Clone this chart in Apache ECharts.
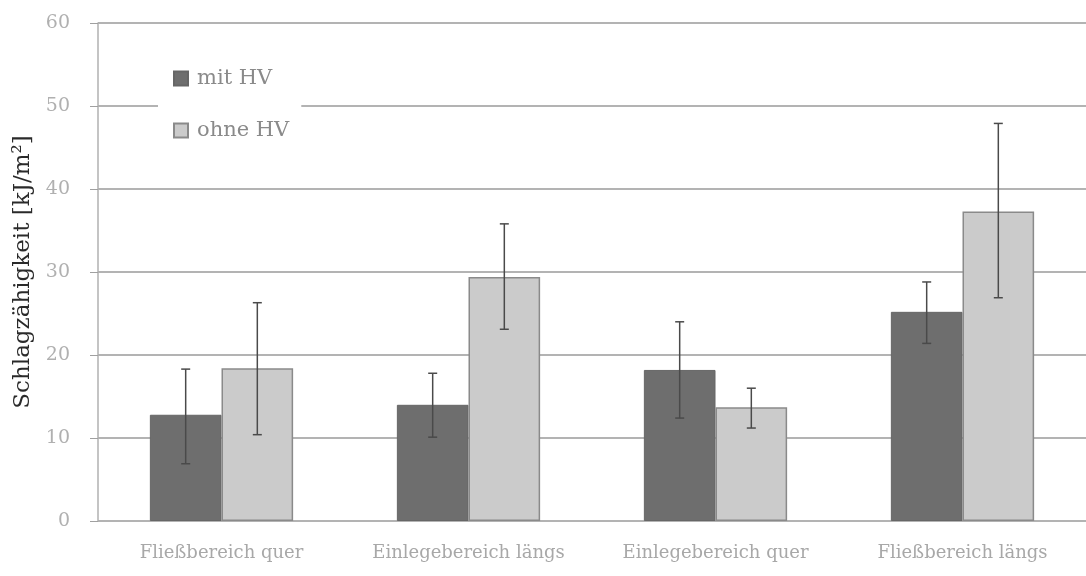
<!DOCTYPE html>
<html>
<head>
<meta charset="utf-8">
<script src="https://cdn.jsdelivr.net/npm/echarts@6/dist/echarts.min.js"></script>
<style>html,body{margin:0;padding:0;background:#fff}#c{width:1086px;height:576px}</style>
</head>
<body>
<div id="c"></div>
<script>
const categories = ['Fließbereich quer', 'Einlegebereich längs', 'Einlegebereich quer', 'Fließbereich längs'];
const seriesNames = ['mit HV', 'ohne HV'];
const mitHV = [12.8, 14.0, 18.2, 25.2];
const mitHVErrLow = [6.9, 10.1, 12.4, 21.4];
const mitHVErrHigh = [18.3, 17.8, 24.0, 28.8];
const ohneHV = [18.4, 29.4, 13.7, 37.3];
const ohneHVErrLow = [10.4, 23.1, 11.2, 26.9];
const ohneHVErrHigh = [26.3, 35.8, 16.0, 47.9];
const yTicks = [0, 10, 20, 30, 40, 50, 60];

const GAP = 0.42;
function errSeries(name, low, high, sign) {
  return {
    type: 'custom',
    name: name + ' err',
    data: categories.map((c, i) => [i, low[i], high[i]]),
    encode: { x: 0, y: [1, 2] },
    z: 10,
    silent: true,
    renderItem: function (params, api) {
      const band = api.size([1, 0])[0];
      const off = sign * band * (1 - GAP) / 4;
      const p1 = api.coord([api.value(0), api.value(1)]);
      const p2 = api.coord([api.value(0), api.value(2)]);
      const x = p1[0] + off;
      const cap = 4.5;
      const st = { stroke: '#4a4a4a', lineWidth: 1.5 };
      return {
        type: 'group',
        children: [
          { type: 'line', shape: { x1: x, y1: p1[1], x2: x, y2: p2[1] }, style: st },
          { type: 'line', shape: { x1: x - cap, y1: p1[1], x2: x + cap, y2: p1[1] }, style: st },
          { type: 'line', shape: { x1: x - cap, y1: p2[1], x2: x + cap, y2: p2[1] }, style: st }
        ]
      };
    }
  };
}

const chart = echarts.init(document.getElementById('c'));
chart.setOption({
  animation: false,
  backgroundColor: '#fff',
  grid: { left: 98, right: 0, top: 23, bottom: 55 },
  legend: {
    data: seriesNames,
    orient: 'vertical',
    left: 158,
    top: 56,
    padding: [12, 12, 8, 15],
    itemGap: 31,
    itemWidth: 14,
    itemHeight: 14,
    backgroundColor: '#fff',
    icon: 'rect',
    textStyle: { fontFamily: 'DejaVu Serif', fontSize: 21, color: '#8a8a8a', padding: [0, 0, 0, 4] }
  },
  xAxis: {
    type: 'category',
    data: categories,
    axisLine: { show: false },
    axisTick: { show: false },
    axisLabel: { interval: 0, hideOverlap: false, fontFamily: 'DejaVu Serif', fontSize: 18, color: '#a8a8a8', margin: 23 }
  },
  yAxis: {
    type: 'value',
    min: 0, max: 60, interval: 10,
    name: 'Schlagzähigkeit [kJ/m²]',
    nameLocation: 'middle',
    nameGap: 63,
    nameTextStyle: { fontFamily: 'DejaVu Serif', fontSize: 23, color: '#2a2a2a' },
    axisLine: { show: true, lineStyle: { color: '#b0b0b0', width: 1.5 } },
    axisTick: { show: true, length: 8, lineStyle: { color: '#a0a0a0' } },
    axisLabel: { fontFamily: 'DejaVu Serif', fontSize: 19, color: '#b0b0b0', margin: 28,
      formatter: v => yTicks.indexOf(v) >= 0 ? String(v) : '' },
    splitLine: { lineStyle: { color: '#9a9a9a', width: 1.5 } }
  },
  series: [
    { type: 'bar', name: seriesNames[0], data: mitHV, barGap: '0%', barCategoryGap: (GAP * 100) + '%',
      itemStyle: { color: '#6e6e6e', borderColor: '#666', borderWidth: 1 } },
    { type: 'bar', name: seriesNames[1], data: ohneHV,
      itemStyle: { color: '#cbcbcb', borderColor: '#8a8a8a', borderWidth: 1.5 } },
    errSeries(seriesNames[0], mitHVErrLow, mitHVErrHigh, -1),
    errSeries(seriesNames[1], ohneHVErrLow, ohneHVErrHigh, 1)
  ]
});
</script>
</body>
</html>
